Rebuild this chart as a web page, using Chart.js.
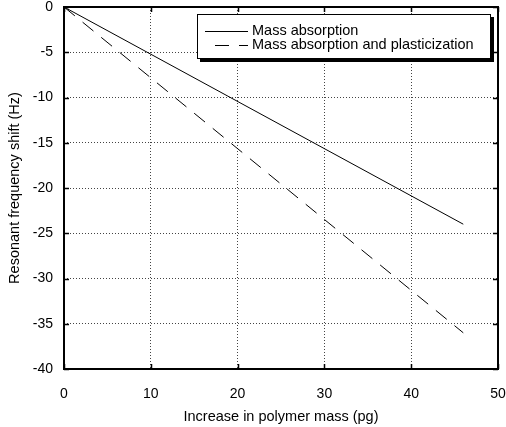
<!DOCTYPE html>
<html>
<head>
<meta charset="utf-8">
<script src="https://cdn.jsdelivr.net/npm/chart.js@4"></script>
<style>
  html, body { margin: 0; padding: 0; background: #fff; }
  #wrap { width: 506px; height: 427px; }
</style>
</head>
<body>
<div id="wrap"><canvas id="chart"></canvas></div>
<script>
// Values
const massPg = [0, 46];
const absorptionShift = [0, -24];
const plasticShift = [0, -36];
const xTicks = [0, 10, 20, 30, 40, 50];
const yTicks = [0, -5, -10, -15, -20, -25, -30, -35, -40];

const FONT = 'Liberation Sans, Arial, sans-serif';

// frame, inside ticks and the boxed legend
const framePlugin = {
    id: 'frame',
    afterDatasetsDraw(chart) {
        const ctx = chart.ctx;
        const a = chart.chartArea;
        const xs = chart.scales.x;
        const ys = chart.scales.y;
        ctx.save();
        ctx.strokeStyle = '#000';
        ctx.lineWidth = 1.5;
        ctx.setLineDash([]);
        // inside ticks
        xTicks.forEach(v => {
            const px = Math.round(xs.getPixelForValue(v)) + 0.5;
            ctx.beginPath();
            ctx.moveTo(px, a.bottom); ctx.lineTo(px, a.bottom - 5);
            ctx.moveTo(px, a.top); ctx.lineTo(px, a.top + 5);
            ctx.stroke();
        });
        yTicks.forEach(v => {
            const py = Math.round(ys.getPixelForValue(v)) + 0.5;
            ctx.beginPath();
            ctx.moveTo(a.left, py); ctx.lineTo(a.left + 5, py);
            ctx.moveTo(a.right, py); ctx.lineTo(a.right - 5, py);
            ctx.stroke();
        });
        ctx.lineWidth = 2;
        ctx.strokeRect(a.left, a.top, a.right - a.left, a.bottom - a.top);

        // legend
        const bx = 197, by = 14, bw = 294, bh = 45;
        ctx.fillStyle = '#000';
        ctx.fillRect(bx + 3, by + 3, bw, bh);
        ctx.fillStyle = '#fff';
        ctx.fillRect(bx, by, bw, bh);
        ctx.lineWidth = 1;
        ctx.strokeRect(bx + 0.5, by + 0.5, bw - 1, bh - 1);
        ctx.font = '14.5px ' + FONT;
        ctx.textBaseline = 'middle';
        ctx.fillStyle = '#000';
        chart.data.datasets.forEach((ds, i) => {
            const ry = by + 17 + i * 14;
            ctx.beginPath();
            ctx.setLineDash(ds.borderDash || []);
            ctx.lineDashOffset = ds.borderDash ? -10 : 0;
            ctx.moveTo(205, ry + 0.5);
            ctx.lineTo(248, ry + 0.5);
            ctx.stroke();
            ctx.setLineDash([]);
            ctx.fillText(ds.label, 252, ry);
        });
        ctx.restore();
    }
};

function noPad(s) {
    s.paddingLeft = 0;
    s.paddingRight = 0;
    s.paddingTop = 0;
    s.paddingBottom = 0;
}

new Chart(document.getElementById('chart'), {
    type: 'line',
    data: {
        datasets: [
            {
                label: 'Mass absorption',
                data: massPg.map((x, i) => ({ x: x, y: absorptionShift[i] })),
                borderColor: '#000',
                borderWidth: 1,
                pointRadius: 0
            },
            {
                label: 'Mass absorption and plasticization',
                data: massPg.map((x, i) => ({ x: x, y: plasticShift[i] })),
                borderColor: '#000',
                borderWidth: 1,
                borderDash: [14, 10],
                pointRadius: 0
            }
        ]
    },
    options: {
        responsive: true,
        maintainAspectRatio: false,
        animation: false,
        layout: { padding: { top: 7, right: 8, left: 0, bottom: 0 } },
        plugins: {
            legend: { display: false },
            tooltip: { enabled: false }
        },
        scales: {
            x: {
                type: 'linear',
                min: 0,
                max: 50,
                afterFit: s => { s.height = 58; noPad(s); },
                afterBuildTicks: s => { s.ticks = xTicks.map(v => ({ value: v })); },
                grid: { color: '#444', lineWidth: 1, drawTicks: false },
                border: { display: false, dash: [1, 2] },
                ticks: { color: '#000', padding: 17, font: { family: FONT, size: 14 } },
                title: {
                    display: true,
                    text: 'Increase in polymer mass (pg)',
                    color: '#000',
                    padding: { top: 4, bottom: 1 },
                    font: { family: FONT, size: 14.5 }
                }
            },
            y: {
                min: -40,
                max: 0,
                afterFit: s => { s.width = 64; noPad(s); },
                afterBuildTicks: s => { s.ticks = yTicks.map(v => ({ value: v })); },
                grid: { color: '#444', lineWidth: 1, drawTicks: false },
                border: { display: false, dash: [1, 2] },
                ticks: { color: '#000', padding: 11, font: { family: FONT, size: 14 } },
                title: {
                    display: true,
                    text: 'Resonant frequency shift (Hz)',
                    color: '#000',
                    padding: { top: 6, bottom: 0 },
                    font: { family: FONT, size: 14.5 }
                }
            }
        }
    },
    plugins: [framePlugin]
});
</script>
</body>
</html>
